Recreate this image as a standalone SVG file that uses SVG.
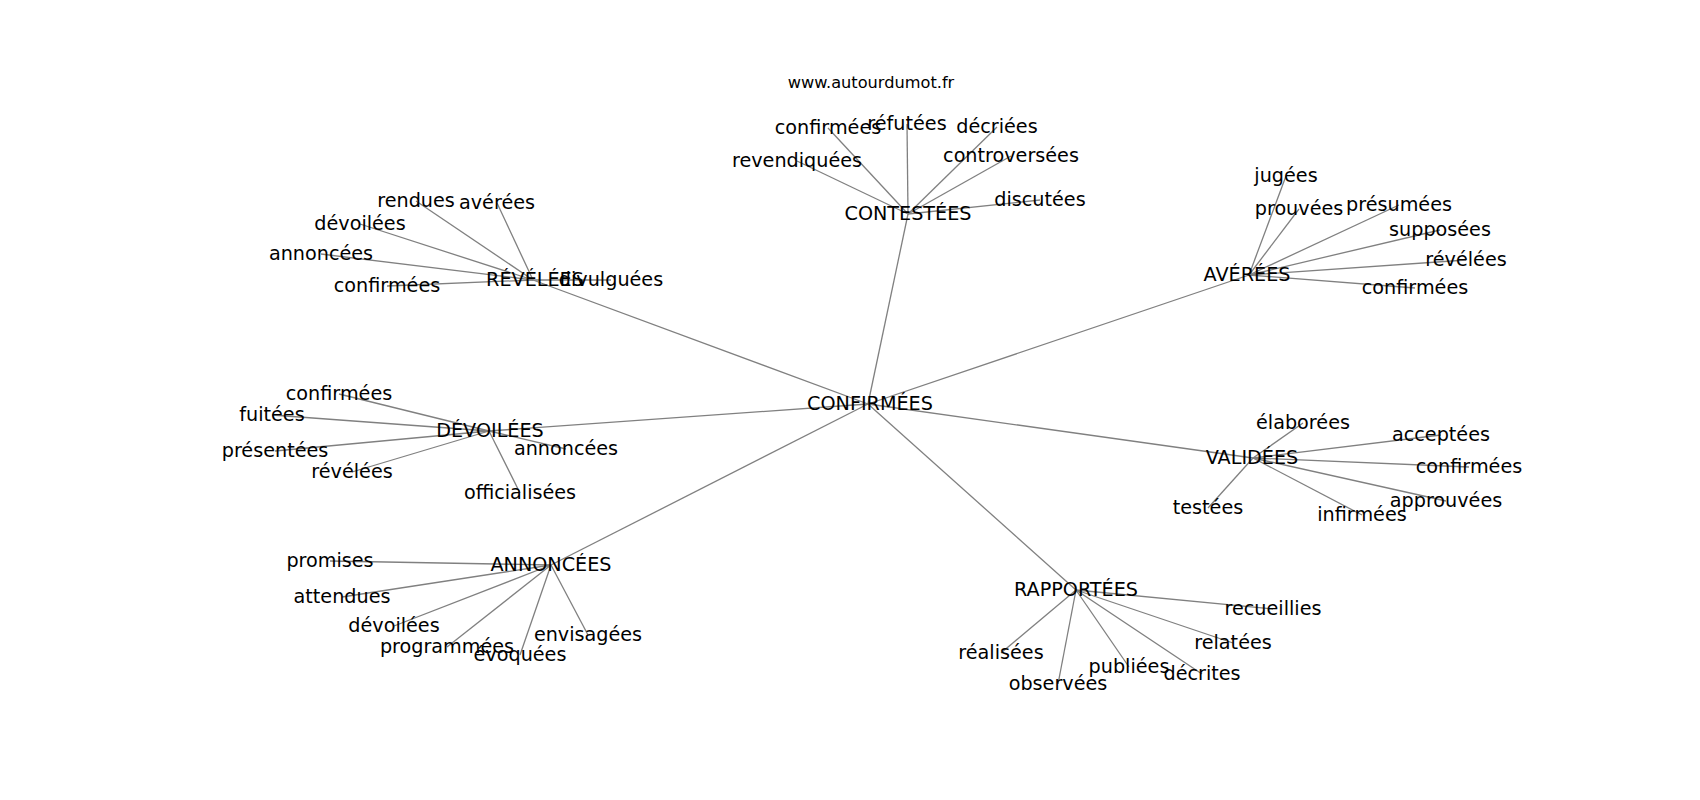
<svg xmlns="http://www.w3.org/2000/svg" width="1700" height="800" viewBox="0 0 1700 800">
<style>
  .e { stroke: #808080; stroke-width: 1.3; fill: none; }
  text { font-family: "DejaVu Sans", "Liberation Sans", sans-serif; font-size: 19.2px; fill: #000; text-anchor: middle; }
  .title { font-size: 16.2px; }
</style>
<rect width="1700" height="800" fill="#fff"/>
<g id="connectors">
  <line class="e" x1="868" y1="404" x2="533" y2="280"/>
  <line class="e" x1="868" y1="404" x2="908" y2="214"/>
  <line class="e" x1="868" y1="404" x2="1249" y2="275"/>
  <line class="e" x1="868" y1="404" x2="1253" y2="458"/>
  <line class="e" x1="868" y1="404" x2="1076" y2="590"/>
  <line class="e" x1="868" y1="404" x2="551" y2="565"/>
  <line class="e" x1="868" y1="404" x2="489" y2="431"/>
  <line class="e" x1="533" y1="280" x2="611" y2="280"/>
  <line class="e" x1="533" y1="280" x2="416" y2="201"/>
  <line class="e" x1="533" y1="280" x2="497" y2="203"/>
  <line class="e" x1="533" y1="280" x2="360" y2="224"/>
  <line class="e" x1="533" y1="280" x2="321" y2="254"/>
  <line class="e" x1="533" y1="280" x2="387" y2="286"/>
  <line class="e" x1="908" y1="214" x2="828" y2="128"/>
  <line class="e" x1="908" y1="214" x2="907" y2="124"/>
  <line class="e" x1="908" y1="214" x2="997" y2="127"/>
  <line class="e" x1="908" y1="214" x2="797" y2="161"/>
  <line class="e" x1="908" y1="214" x2="1011" y2="156"/>
  <line class="e" x1="908" y1="214" x2="1040" y2="200"/>
  <line class="e" x1="1249" y1="275" x2="1286" y2="176"/>
  <line class="e" x1="1249" y1="275" x2="1299" y2="209"/>
  <line class="e" x1="1249" y1="275" x2="1399" y2="205"/>
  <line class="e" x1="1249" y1="275" x2="1440" y2="230"/>
  <line class="e" x1="1249" y1="275" x2="1466" y2="260"/>
  <line class="e" x1="1249" y1="275" x2="1415" y2="288"/>
  <line class="e" x1="1253" y1="458" x2="1303" y2="423"/>
  <line class="e" x1="1253" y1="458" x2="1441" y2="435"/>
  <line class="e" x1="1253" y1="458" x2="1469" y2="467"/>
  <line class="e" x1="1253" y1="458" x2="1446" y2="501"/>
  <line class="e" x1="1253" y1="458" x2="1362" y2="515"/>
  <line class="e" x1="1253" y1="458" x2="1208" y2="508"/>
  <line class="e" x1="1076" y1="590" x2="1001" y2="653"/>
  <line class="e" x1="1076" y1="590" x2="1058" y2="684"/>
  <line class="e" x1="1076" y1="590" x2="1129" y2="667"/>
  <line class="e" x1="1076" y1="590" x2="1202" y2="674"/>
  <line class="e" x1="1076" y1="590" x2="1233" y2="643"/>
  <line class="e" x1="1076" y1="590" x2="1273" y2="609"/>
  <line class="e" x1="551" y1="565" x2="330" y2="561"/>
  <line class="e" x1="551" y1="565" x2="342" y2="597"/>
  <line class="e" x1="551" y1="565" x2="394" y2="626"/>
  <line class="e" x1="551" y1="565" x2="447" y2="647"/>
  <line class="e" x1="551" y1="565" x2="520" y2="655"/>
  <line class="e" x1="551" y1="565" x2="588" y2="635"/>
  <line class="e" x1="489" y1="431" x2="339" y2="394"/>
  <line class="e" x1="489" y1="431" x2="272" y2="415"/>
  <line class="e" x1="489" y1="431" x2="275" y2="451"/>
  <line class="e" x1="489" y1="431" x2="352" y2="472"/>
  <line class="e" x1="489" y1="431" x2="566" y2="449"/>
  <line class="e" x1="489" y1="431" x2="520" y2="493"/>
</g>
<text class="title" x="871" y="88">www.autourdumot.fr</text>
<g id="n-confirmees"><text x="870" y="410">CONFIRMÉES</text></g>
<g id="n-revelees"><text x="535" y="286">RÉVÉLÉES</text></g>
<g id="n-revelees-divulguees"><text x="611" y="286">divulguées</text></g>
<g id="n-revelees-rendues"><text x="416" y="207">rendues</text></g>
<g id="n-revelees-averees"><text x="497" y="209">avérées</text></g>
<g id="n-revelees-devoilees"><text x="360" y="230">dévoilées</text></g>
<g id="n-revelees-annoncees"><text x="321" y="260">annoncées</text></g>
<g id="n-revelees-confirmees"><text x="387" y="292">confirmées</text></g>
<g id="n-contestees"><text x="908" y="220">CONTESTÉES</text></g>
<g id="n-contestees-confirmees"><text x="828" y="134">confirmées</text></g>
<g id="n-contestees-refutees"><text x="907" y="130">réfutées</text></g>
<g id="n-contestees-decriees"><text x="997" y="133">décriées</text></g>
<g id="n-contestees-revendiquees"><text x="797" y="167">revendiquées</text></g>
<g id="n-contestees-controversees"><text x="1011" y="162">controversées</text></g>
<g id="n-contestees-discutees"><text x="1040" y="206">discutées</text></g>
<g id="n-averees"><text x="1247" y="281">AVÉRÉES</text></g>
<g id="n-averees-jugees"><text x="1286" y="182">jugées</text></g>
<g id="n-averees-prouvees"><text x="1299" y="215">prouvées</text></g>
<g id="n-averees-presumees"><text x="1399" y="211">présumées</text></g>
<g id="n-averees-supposees"><text x="1440" y="236">supposées</text></g>
<g id="n-averees-revelees"><text x="1466" y="266">révélées</text></g>
<g id="n-averees-confirmees"><text x="1415" y="294">confirmées</text></g>
<g id="n-validees"><text x="1252" y="464">VALIDÉES</text></g>
<g id="n-validees-elaborees"><text x="1303" y="429">élaborées</text></g>
<g id="n-validees-acceptees"><text x="1441" y="441">acceptées</text></g>
<g id="n-validees-confirmees"><text x="1469" y="473">confirmées</text></g>
<g id="n-validees-approuvees"><text x="1446" y="507">approuvées</text></g>
<g id="n-validees-infirmees"><text x="1362" y="521">infirmées</text></g>
<g id="n-validees-testees"><text x="1208" y="514">testées</text></g>
<g id="n-rapportees"><text x="1076" y="596">RAPPORTÉES</text></g>
<g id="n-rapportees-realisees"><text x="1001" y="659">réalisées</text></g>
<g id="n-rapportees-observees"><text x="1058" y="690">observées</text></g>
<g id="n-rapportees-publiees"><text x="1129" y="673">publiées</text></g>
<g id="n-rapportees-decrites"><text x="1202" y="680">décrites</text></g>
<g id="n-rapportees-relatees"><text x="1233" y="649">relatées</text></g>
<g id="n-rapportees-recueillies"><text x="1273" y="615">recueillies</text></g>
<g id="n-annoncees"><text x="551" y="571">ANNONCÉES</text></g>
<g id="n-annoncees-promises"><text x="330" y="567">promises</text></g>
<g id="n-annoncees-attendues"><text x="342" y="603">attendues</text></g>
<g id="n-annoncees-devoilees"><text x="394" y="632">dévoilées</text></g>
<g id="n-annoncees-programmees"><text x="447" y="653">programmées</text></g>
<g id="n-annoncees-evoquees"><text x="520" y="661">évoquées</text></g>
<g id="n-annoncees-envisagees"><text x="588" y="641">envisagées</text></g>
<g id="n-devoilees"><text x="490" y="437">DÉVOILÉES</text></g>
<g id="n-devoilees-confirmees"><text x="339" y="400">confirmées</text></g>
<g id="n-devoilees-fuitees"><text x="272" y="421">fuitées</text></g>
<g id="n-devoilees-presentees"><text x="275" y="457">présentées</text></g>
<g id="n-devoilees-revelees"><text x="352" y="478">révélées</text></g>
<g id="n-devoilees-annoncees"><text x="566" y="455">annoncées</text></g>
<g id="n-devoilees-officialisees"><text x="520" y="499">officialisées</text></g>
</svg>
